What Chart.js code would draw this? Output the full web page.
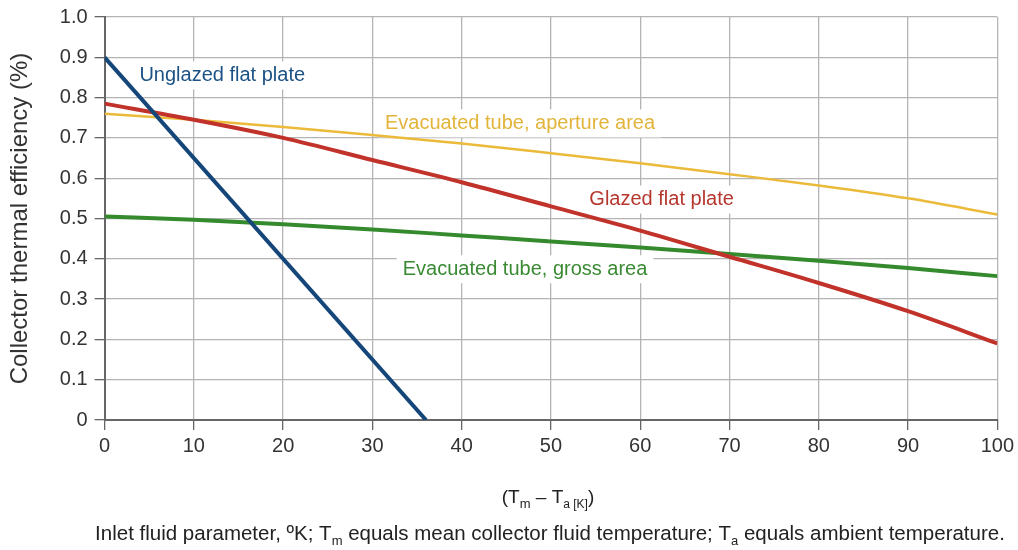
<!DOCTYPE html>
<html lang="en">
<head>
    <meta charset="UTF-8">
    <title>Collector thermal efficiency</title>
    <script src="https://cdn.jsdelivr.net/npm/chart.js"></script>
    <style>
        html, body { margin: 0; padding: 0; background: #fff; }
        #wrap { width: 1018px; height: 550px; }
    </style>
</head>
<body>
    <div id="wrap"><canvas id="effChart" width="1018" height="550"></canvas></div>

    <script>
        // x values (Tm - Ta, K)
        const xVals = [0, 10, 20, 30, 40, 50, 60, 70, 80, 90, 100];
        const unglazedX = [0, 36];
        const unglazed = [0.90, 0];
        const glazed = [0.785, 0.745, 0.70, 0.645, 0.59, 0.53, 0.47, 0.405, 0.34, 0.27, 0.19];
        const aperture = [0.76, 0.745, 0.727, 0.707, 0.686, 0.662, 0.637, 0.61, 0.582, 0.55, 0.51];
        const gross = [0.505, 0.497, 0.486, 0.473, 0.458, 0.443, 0.428, 0.412, 0.395, 0.377, 0.357];
        const yTicks = [0, 0.1, 0.2, 0.3, 0.4, 0.5, 0.6, 0.7, 0.8, 0.9, 1.0];

        const pts = (xs, ys) => ys.map((y, i) => ({ x: xs[i], y: y }));

        // in-plot series labels (anchored in data coordinates)
        const seriesLabels = [
            { text: 'Unglazed flat plate', x: 3.9, y: 0.855, color: '#1d5285' },
            { text: 'Evacuated tube, aperture area', x: 31.4, y: 0.736, color: '#e2b43a' },
            { text: 'Glazed flat plate', x: 54.3, y: 0.547, color: '#b5372e' },
            { text: 'Evacuated tube, gross area', x: 33.4, y: 0.374, color: '#3a8a34' }
        ];

        const FONT = '"Liberation Sans", Arial, sans-serif';

        const labelPlugin = {
            id: 'labels',
            beforeDatasetsDraw(chart) {
                const ctx = chart.ctx;
                const xs = chart.scales.x, ys = chart.scales.y;
                ctx.save();
                ctx.font = '20px ' + FONT;
                ctx.textBaseline = 'middle';
                seriesLabels.forEach(l => {
                    const px = xs.getPixelForValue(l.x);
                    const py = ys.getPixelForValue(l.y);
                    const w = ctx.measureText(l.text).width;
                    ctx.fillStyle = '#fff';
                    ctx.fillRect(px - 6, py - 14, w + 12, 28);
                    ctx.fillStyle = l.color;
                    ctx.fillText(l.text, px, py);
                });
                ctx.restore();
            },
            afterDraw(chart) {
                const ctx = chart.ctx;
                ctx.save();
                ctx.fillStyle = '#222';
                ctx.textBaseline = 'alphabetic';
                // x axis title: (Tm – Ta [K])
                const parts1 = [
                    ['(T', 19, 0], ['m', 13, 5], [' – T', 19, 0], ['a [K]', 12, 5], [')', 19, 0]
                ];
                drawRich(ctx, parts1, 548, 503);
                const parts2 = [
                    ['Inlet fluid parameter, ºK; T', 20.5, 0], ['m', 13, 5],
                    [' equals mean collector fluid temperature; T', 20.5, 0], ['a', 13, 5],
                    [' equals ambient temperature.', 20.5, 0]
                ];
                drawRich(ctx, parts2, 550, 540);
                ctx.restore();
            }
        };

        function drawRich(ctx, parts, cx, base) {
            let total = 0;
            parts.forEach(p => { ctx.font = p[1] + 'px ' + FONT; total += ctx.measureText(p[0]).width; });
            let x = cx - total / 2;
            parts.forEach(p => {
                ctx.font = p[1] + 'px ' + FONT;
                ctx.fillText(p[0], x, base + p[2]);
                x += ctx.measureText(p[0]).width;
            });
        }

        const ctx = document.getElementById('effChart').getContext('2d');
        new Chart(ctx, {
            type: 'line',
            data: {
                datasets: [{
                    label: 'Unglazed flat plate',
                    data: pts(unglazedX, unglazed),
                    borderColor: '#15467a',
                    borderWidth: 4,
                    order: 1
                }, {
                    label: 'Glazed flat plate',
                    data: pts(xVals, glazed),
                    borderColor: '#c1322b',
                    borderWidth: 4,
                    cubicInterpolationMode: 'monotone',
                    order: 2
                }, {
                    label: 'Evacuated tube, gross area',
                    data: pts(xVals, gross),
                    borderColor: '#358a2e',
                    borderWidth: 4,
                    cubicInterpolationMode: 'monotone',
                    order: 3
                }, {
                    label: 'Evacuated tube, aperture area',
                    data: pts(xVals, aperture),
                    borderColor: '#ecba3a',
                    borderWidth: 2.5,
                    cubicInterpolationMode: 'monotone',
                    order: 4
                }]
            },
            options: {
                responsive: false,
                animation: false,
                layout: { padding: { top: 14, right: 20, bottom: 88, left: 4 } },
                elements: { point: { radius: 0 }, line: { fill: false } },
                plugins: { legend: { display: false }, tooltip: { enabled: false } },
                scales: {
                    x: {
                        type: 'linear',
                        min: 0, max: 100,
                        ticks: { stepSize: 10, color: '#333', font: { size: 20, family: FONT }, padding: 4, maxRotation: 0 },
                        grid: { color: '#b4b4b4', lineWidth: 1.3, tickLength: 10, tickColor: '#666' },
                        border: { color: '#666', width: 2 }
                    },
                    y: {
                        min: 0, max: 1,
                        afterBuildTicks: axis => { axis.ticks = yTicks.map(v => ({ value: v })); },
                        ticks: {
                            color: '#333', font: { size: 20, family: FONT, lineHeight: 1 }, padding: 7,
                            callback: v => v === 0 ? '0' : v.toFixed(1)
                        },
                        grid: { color: '#b4b4b4', lineWidth: 1.3, tickLength: 10, tickColor: '#666' },
                        border: { color: '#666', width: 2 },
                        title: {
                            display: true, text: 'Collector thermal efficiency (%)',
                            color: '#333', font: { size: 24, family: FONT }, padding: { top: 2, bottom: 18 }
                        }
                    }
                }
            },
            plugins: [labelPlugin]
        });
    </script>
</body>
</html>
